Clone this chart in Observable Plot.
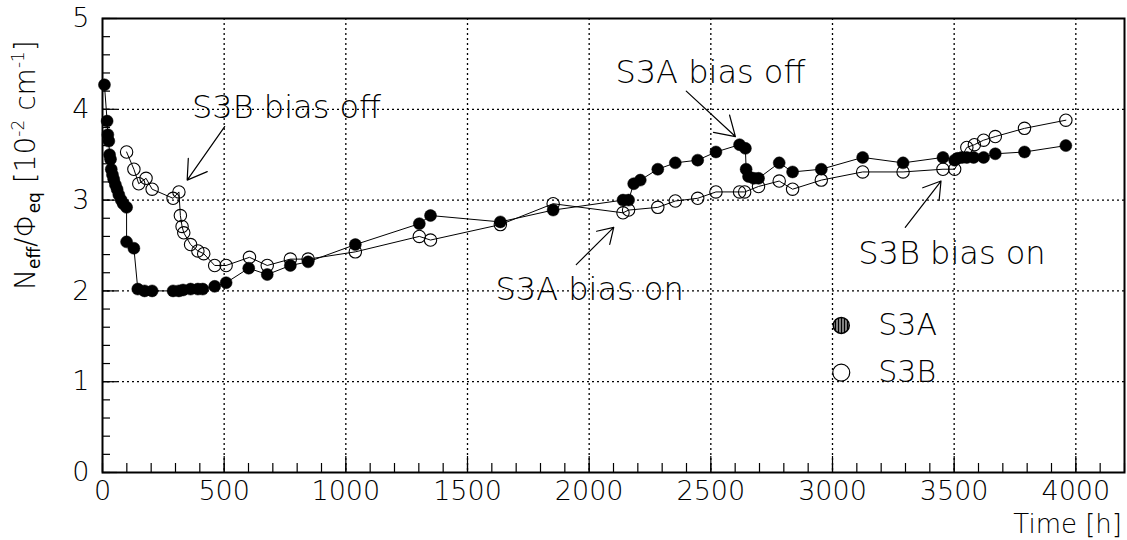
<!DOCTYPE html>
<html>
<head>
<meta charset="utf-8">
<script src="https://cdn.jsdelivr.net/npm/d3@7"></script>
<script src="https://cdn.jsdelivr.net/npm/@observablehq/plot@0.6"></script>
<style>
  html, body { margin: 0; padding: 0; background: white; }
  #chart { width: 1127px; height: 540px; }
</style>
</head>
<body>
<div id="chart"></div>
<script>
// ---- data ----
const s3aTime = [8,19,22,26,29,33,36,41,46,53,60,67,77,85,99,99,129,145,173,204,290,314,331,362,392,412,461,508,601,677,772,845,1039,1302,1348,1635,1852,2139,2162,2183,2210,2282,2354,2446,2521,2618,2642,2645,2655,2676,2696,2781,2836,2954,3124,3290,3454,3502,3514,3532,3552,3580,3621,3669,3789,3959];
const s3aValue = [4.27,3.87,3.72,3.65,3.50,3.45,3.34,3.28,3.23,3.17,3.12,3.06,3.00,2.96,2.92,2.54,2.47,2.02,2.00,2.00,2.00,2.00,2.01,2.02,2.02,2.02,2.05,2.09,2.25,2.18,2.28,2.32,2.51,2.74,2.83,2.76,2.89,3.00,3.00,3.18,3.22,3.34,3.41,3.44,3.53,3.61,3.57,3.34,3.26,3.24,3.24,3.41,3.31,3.34,3.47,3.41,3.47,3.44,3.46,3.47,3.47,3.47,3.47,3.51,3.53,3.60];

const s3bTime = [99,129,149,179,204,290,314,320,327,334,362,392,416,461,508,604,677,772,845,1039,1302,1348,1635,1852,2139,2162,2282,2354,2446,2521,2618,2639,2696,2781,2836,2954,3124,3290,3454,3502,3552,3583,3621,3669,3789,3959];
const s3bValue = [3.53,3.34,3.18,3.24,3.12,3.02,3.09,2.83,2.71,2.64,2.51,2.44,2.41,2.28,2.28,2.37,2.28,2.35,2.35,2.43,2.60,2.56,2.73,2.96,2.86,2.89,2.92,2.99,3.02,3.09,3.09,3.09,3.15,3.21,3.12,3.22,3.31,3.31,3.34,3.34,3.58,3.61,3.66,3.70,3.79,3.88];

const xTickLabels = [0,500,1000,1500,2000,2500,3000,3500,4000];
const yTickLabels = [0,1,2,3,4,5];
const xMinorTicks = d3.range(0, 4201, 100);
const yMinorTicks = d3.range(0, 5.01, 0.2).map(d => +d.toFixed(1));

const seriesNames = ["S3A", "S3B"];

// annotations, in data coordinates (time, value)
const noteText = ["S3B bias off", "S3A bias off", "S3A bias on", "S3B bias on"];
const noteTime = [368, 2108, 1615, 3106];
const noteValue = [4.015, 4.40, 2.01, 2.41];
const arrowFromTime = [502, 2399, 1947, 3299];
const arrowFromValue = [3.81, 4.20, 2.29, 2.70];
const arrowToTime = [348, 2601, 2101, 3446];
const arrowToValue = [3.22, 3.70, 2.70, 3.21];

const legendTime = 3036, legendTextTime = 3188;
const legendValue = [1.62, 1.10];

// ---- tables ----
const s3a = s3aTime.map((t, i) => ({t, v: s3aValue[i]}));
const s3b = s3bTime.map((t, i) => ({t, v: s3bValue[i]}));
const notes = noteText.map((text, i) => ({text, t: noteTime[i], v: noteValue[i]}));
const arrows = arrowFromTime.map((t1, i) => ({t1, v1: arrowFromValue[i], t2: arrowToTime[i], v2: arrowToValue[i]}));
const legend = seriesNames.map((name, i) => ({name, v: legendValue[i]}));

const W = 1127, H = 540;
const mL = 102, mR = 3, mT = 18, mB = 68;
const plotW = W - mL - mR, plotH = H - mT - mB;
const FONT = "'DejaVu Sans', 'Liberation Sans', sans-serif";

const chart = Plot.plot({
  width: W, height: H,
  marginLeft: mL, marginRight: mR, marginTop: mT, marginBottom: mB,
  x: {domain: [0, 4200], label: null},
  y: {domain: [0, 5], label: null},
  style: {fontFamily: FONT, fontSize: "27px", fontWeight: 200, background: "white", color: "black", overflow: "visible"},
  marks: [
    // dotted grid
    Plot.ruleX(xTickLabels.filter(d => d > 0), {x: d => d, stroke: "black", strokeWidth: 1.3, strokeDasharray: "2,3"}),
    Plot.ruleY(yTickLabels.filter(d => d > 0 && d < 5), {y: d => d, stroke: "black", strokeWidth: 1.3, strokeDasharray: "2,3"}),
    // inner ticks
    Plot.tickY(yMinorTicks, {y: d => d, insetRight: plotW - 8, stroke: "black", strokeWidth: 1.2}),
    Plot.tickY(yTickLabels, {y: d => d, insetRight: plotW - 15, stroke: "black", strokeWidth: 1.2}),
    Plot.tickX(xMinorTicks, {x: d => d, insetTop: plotH - 9, stroke: "black", strokeWidth: 1.2}),
    Plot.tickX(xTickLabels, {x: d => d, insetTop: plotH - 16, stroke: "black", strokeWidth: 1.2}),
    // axes labels
    Plot.axisY({ticks: yTickLabels, tickSize: 0, tickPadding: 13, fontSize: 27, tickFormat: d3.format("d"), label: null}),
    Plot.axisX({ticks: xTickLabels, tickSize: 0, tickPadding: 8, fontSize: 27, tickFormat: d3.format("d"), label: null}),
    // series
    Plot.line(s3a, {x: "t", y: "v", stroke: "black", strokeWidth: 1}),
    Plot.dot(s3a, {x: "t", y: "v", r: 6, fill: "black", stroke: "black", strokeWidth: 0.5}),
    Plot.line(s3b, {x: "t", y: "v", stroke: "black", strokeWidth: 1}),
    Plot.dot(s3b, {x: "t", y: "v", r: 6.2, fill: "none", stroke: "black", strokeWidth: 1.1}),
    // annotations
    Plot.arrow(arrows, {x1: "t1", y1: "v1", x2: "t2", y2: "v2", stroke: "black", strokeWidth: 1.2, headAngle: 64, headLength: 40}),
    Plot.text(notes, {x: "t", y: "v", text: "text", textAnchor: "start", fontSize: 32, fill: "black"}),
    // legend
    Plot.dot(legend.slice(0, 1), {x: () => legendTime, y: "v", r: 8, fill: "url(#vhatch)", stroke: "black", strokeWidth: 1.5}),
    Plot.dot(legend.slice(1), {x: () => legendTime, y: "v", r: 8.5, fill: "none", stroke: "black", strokeWidth: 1.2}),
    Plot.text(legend, {x: () => legendTextTime, y: "v", text: "name", textAnchor: "start", fontSize: 30, fill: "black"}),
    // frame
    Plot.frame({stroke: "black", strokeWidth: 2})
  ]
});

document.getElementById("chart").appendChild(chart);

const svg = d3.select(chart);
// hatch pattern for the S3A legend marker
const defs = svg.insert("defs", ":first-child");
const pat = defs.append("pattern").attr("id", "vhatch").attr("patternUnits", "userSpaceOnUse")
  .attr("width", 3).attr("height", 3);
pat.append("rect").attr("width", 3).attr("height", 3).attr("fill", "black");
pat.append("rect").attr("x", 2).attr("width", 1).attr("height", 3).attr("fill", "white");

// y axis title with sub/superscripts
const yl = svg.append("text")
  .attr("transform", "translate(35,290) rotate(-90)")
  .attr("font-family", FONT).attr("font-weight", 200)
  .attr("font-size", 28).attr("fill", "black").attr("text-anchor", "start");
yl.append("tspan").text("N");
yl.append("tspan").attr("font-size", 17).attr("font-weight", 400).attr("dy", 5).text("eff");
yl.append("tspan").attr("dy", -5).text("/");
yl.append("tspan").text("Φ");
yl.append("tspan").attr("font-size", 17).attr("font-weight", 400).attr("dy", 5).text("eq");
yl.append("tspan").attr("dy", -5).text(" [10");
yl.append("tspan").attr("font-size", 17).attr("dy", -11).text("-2");
yl.append("tspan").attr("dy", 11).text(" cm");
yl.append("tspan").attr("font-size", 17).attr("dy", -11).text("-1");
yl.append("tspan").attr("dy", 11).text("]");

// x axis title
svg.append("text")
  .attr("x", W - 5).attr("y", 533)
  .attr("font-family", FONT).attr("font-weight", 200)
  .attr("font-size", 26).attr("fill", "black").attr("text-anchor", "end")
  .text("Time [h]");
</script>
</body>
</html>
